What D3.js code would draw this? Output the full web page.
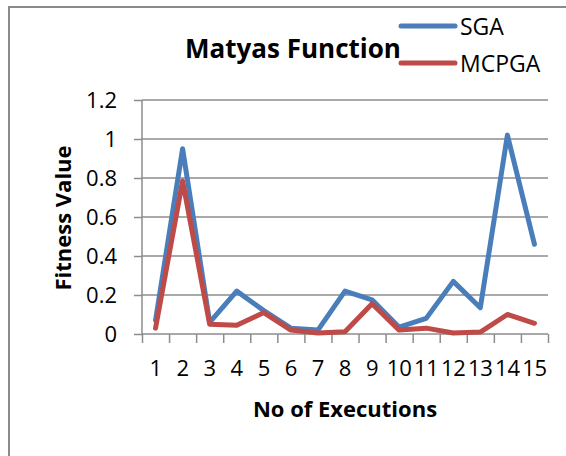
<!DOCTYPE html>
<html>
<head>
<meta charset="utf-8">
<script src="https://cdn.jsdelivr.net/npm/d3@7"></script>
<style>
  body { margin: 0; background: #fff; }
  svg text { font-family: "Open Sans", "Liberation Sans", sans-serif; fill: #000; }
</style>
</head>
<body>
<svg id="chart" width="566" height="456"></svg>
<script>
// chart data
const executions = ["1", "2", "3", "4", "5", "6", "7", "8", "9", "10", "11", "12", "13", "14", "15"];
const sgaValues = [0.07, 0.95, 0.06, 0.22, 0.12, 0.03, 0.02, 0.22, 0.175, 0.035, 0.08, 0.27, 0.135, 1.02, 0.46];
const mcpgaValues = [0.03, 0.785, 0.05, 0.045, 0.11, 0.02, 0.005, 0.012, 0.155, 0.02, 0.03, 0.005, 0.01, 0.1, 0.055];
const yTicks = [0, 0.2, 0.4, 0.6, 0.8, 1, 1.2];
const seriesNames = ["SGA", "MCPGA"];
const seriesColors = ["#4a7ebb", "#be4b48"];

const svg = d3.select("#chart");

// chart border (open on right and bottom, clipped by the window)
svg
  .append("rect")
  .attr("x", 9)
  .attr("y", 7)
  .attr("width", 700)
  .attr("height", 600)
  .attr("fill", "none")
  .attr("stroke", "#8a8a8a")
  .attr("stroke-width", 2);

const plotLeft = 142, plotRight = 548, plotTop = 100, plotBottom = 334;

const xScale = d3.scaleBand().domain(executions).range([plotLeft, plotRight]).padding(0);
const xEdge = d3.scaleLinear().domain([0, executions.length]).range([plotLeft, plotRight]);
const yScale = d3.scaleLinear().domain([0, 1.2]).range([plotBottom, plotTop]);

// horizontal gridlines
svg
  .append("g")
  .selectAll("line")
  .data(yTicks.slice(1))
  .enter()
  .append("line")
  .attr("x1", plotLeft)
  .attr("x2", plotRight)
  .attr("y1", (d) => yScale(d))
  .attr("y2", (d) => yScale(d))
  .attr("stroke", "#8c8c8c")
  .attr("stroke-width", 1.5);

// Y axis
const yAxis = svg
  .append("g")
  .attr("transform", `translate(${plotLeft},0)`)
  .call(
    d3
      .axisLeft(yScale)
      .tickValues(yTicks)
      .tickSize(8)
      .tickPadding(17)
      .tickFormat((d) => String(+d.toFixed(1)))
  );
yAxis.select(".domain").attr("stroke", "#8c8c8c").attr("stroke-width", 1.5).attr("d", `M0,${plotTop}V${plotBottom}`);
yAxis.selectAll(".tick line").attr("stroke", "#8c8c8c").attr("stroke-width", 1.5);
yAxis.selectAll(".tick text").style("font-size", "22px").style("font-family", "'Open Sans', sans-serif").attr("fill", "#000");

// X axis tick marks at category edges
const xTickAxis = svg
  .append("g")
  .attr("transform", `translate(0,${plotBottom})`)
  .call(d3.axisBottom(xEdge).tickValues(d3.range(executions.length + 1)).tickSize(9).tickFormat(""));
xTickAxis.select(".domain").attr("stroke", "#8c8c8c").attr("stroke-width", 1.5).attr("d", `M${plotLeft},0H${plotRight}`);
xTickAxis.selectAll(".tick line").attr("stroke", "#8c8c8c").attr("stroke-width", 1.5);

// X axis labels
const xAxis = svg
  .append("g")
  .attr("transform", `translate(0,${plotBottom})`)
  .call(d3.axisBottom(xScale).tickSize(0).tickPadding(26));
xAxis.select(".domain").remove();
xAxis.selectAll(".tick text").style("font-size", "22px").style("font-family", "'Open Sans', sans-serif").attr("fill", "#000").attr("letter-spacing", "-0.3px");

// Series lines
const line = d3
  .line()
  .x((d, i) => xScale(executions[i]) + xScale.bandwidth() / 2)
  .y((d) => yScale(d));

[sgaValues, mcpgaValues].forEach((values, k) => {
  svg
    .append("path")
    .datum(values)
    .attr("fill", "none")
    .attr("stroke", seriesColors[k])
    .attr("stroke-width", 5)
    .attr("stroke-linejoin", "round")
    .attr("stroke-linecap", "round")
    .attr("d", line);
});

// Title
svg
  .append("text")
  .attr("x", 293)
  .attr("y", 58)
  .attr("text-anchor", "middle")
  .style("font-size", "26px")
  .style("font-weight", "bold")
  .text("Matyas Function");

// Axis titles
svg
  .append("text")
  .attr("x", 345)
  .attr("y", 417)
  .attr("text-anchor", "middle")
  .style("font-size", "22px")
  .style("font-weight", "bold")
  .text("No of Executions");

svg
  .append("text")
  .attr("transform", "rotate(-90)")
  .attr("x", -218)
  .attr("y", 71)
  .attr("text-anchor", "middle")
  .style("font-size", "22px")
  .style("font-weight", "bold")
  .text("Fitness Value");

// Legend
const legend = svg.append("g");
seriesNames.forEach((name, k) => {
  const ly = k === 0 ? 26 : 63;
  legend
    .append("line")
    .attr("x1", 401)
    .attr("x2", 455)
    .attr("y1", ly)
    .attr("y2", ly)
    .attr("stroke", seriesColors[k])
    .attr("stroke-width", 5)
    .attr("stroke-linecap", "round");
  legend
    .append("text")
    .attr("x", 460)
    .attr("y", ly + 9)
    .style("font-size", "23px")
    .text(name);
});
</script>
</body>
</html>
